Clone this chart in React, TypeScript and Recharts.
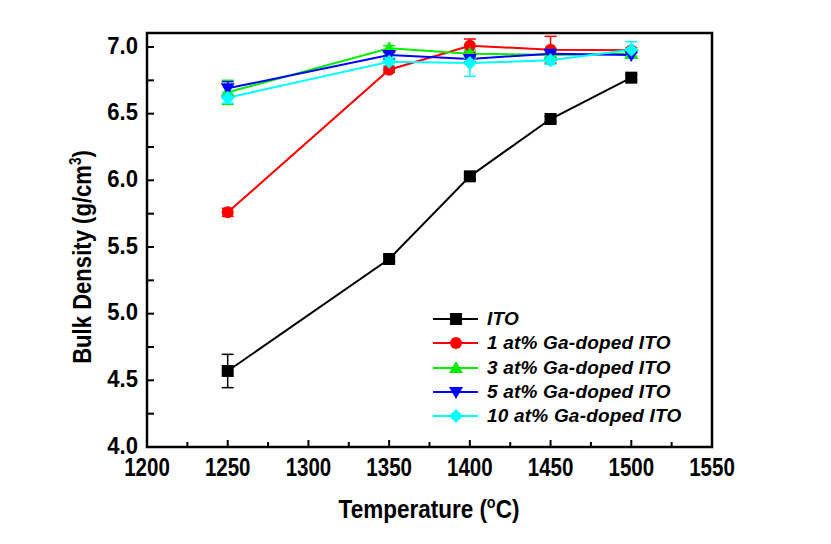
import { LineChart, Line, XAxis, YAxis, ErrorBar, ReferenceArea } from "recharts";

const temps = [1250, 1350, 1400, 1450, 1500];
const ito = [4.57, 5.41, 6.03, 6.46, 6.77];
const itoErr = [0.125, 0.02, 0.02, 0.02, 0.02];
const ga1 = [5.76, 6.83, 7.01, 6.98, 6.975];
const ga1Err = [0.03, 0.02, 0.05, 0.1, 0.02];
const ga3 = [6.66, 6.99, 6.95, 6.94, 6.95];
const ga3Err = [0.09, 0.02, 0.02, 0.02, 0.02];
const ga5 = [6.69, 6.94, 6.91, 6.95, 6.94];
const ga5Err = [0.05, 0.03, 0.02, 0.03, 0.02];
const ga10 = [6.62, 6.89, 6.88, 6.9, 6.98];
const ga10Err = [0.04, 0.03, 0.1, 0.03, 0.06];

const xTicks = [1200, 1225, 1250, 1275, 1300, 1325, 1350, 1375, 1400, 1425, 1450, 1475, 1500, 1525, 1550];
const yTicks = [4.0, 4.25, 4.5, 4.75, 5.0, 5.25, 5.5, 5.75, 6.0, 6.25, 6.5, 6.75, 7.0];

const data = temps.map((t, i) => ({
  t,
  ito: ito[i], itoErr: itoErr[i],
  ga1: ga1[i], ga1Err: ga1Err[i],
  ga3: ga3[i], ga3Err: ga3Err[i],
  ga5: ga5[i], ga5Err: ga5Err[i],
  ga10: ga10[i], ga10Err: ga10Err[i],
}));

const FONT = "'Liberation Sans', Arial, sans-serif";
const TICK_MARGIN = 6;

type Shape = "square" | "circle" | "up" | "down" | "diamond";

function marker(shape: Shape, cx: number, cy: number, color: string, key?: string) {
  const s = 6;
  if (shape === "square") return <rect key={key} x={cx - s} y={cy - s} width={2 * s} height={2 * s} fill={color} />;
  if (shape === "circle") return <circle key={key} cx={cx} cy={cy} r={s} fill={color} />;
  if (shape === "up")
    return <polygon key={key} points={`${cx},${cy - 7} ${cx + 7},${cy + 5} ${cx - 7},${cy + 5}`} fill={color} />;
  if (shape === "down")
    return <polygon key={key} points={`${cx},${cy + 7} ${cx + 7},${cy - 5} ${cx - 7},${cy - 5}`} fill={color} />;
  return <polygon key={key} points={`${cx},${cy - 7} ${cx + 7},${cy} ${cx},${cy + 7} ${cx - 7},${cy}`} fill={color} />;
}

const series: { key: string; name: string; color: string; shape: Shape }[] = [
  { key: "ito", name: "ITO", color: "#000000", shape: "square" },
  { key: "ga1", name: "1 at% Ga-doped ITO", color: "#ff0000", shape: "circle" },
  { key: "ga3", name: "3 at% Ga-doped ITO", color: "#00ee00", shape: "up" },
  { key: "ga5", name: "5 at% Ga-doped ITO", color: "#0000ff", shape: "down" },
  { key: "ga10", name: "10 at% Ga-doped ITO", color: "#00ffff", shape: "diamond" },
];

function YTick(props: any) {
  const { x, y, payload } = props;
  const v = payload.value as number;
  const major = Math.abs(v * 2 - Math.round(v * 2)) < 1e-6;
  const ax = x + TICK_MARGIN;
  return (
    <g>
      <line x1={ax} x2={ax + 7} y1={y} y2={y} stroke="#000" strokeWidth={2} />
      {major && (
        <text transform={`translate(${ax - 9},${y + 6.5}) scale(0.92,1)`} textAnchor="end" fontFamily={FONT} fontWeight="bold" fontSize={24} fill="#000">
          {v.toFixed(1)}
        </text>
      )}
    </g>
  );
}

function XTick(props: any) {
  const { x, y, payload } = props;
  const v = payload.value as number;
  const major = v % 50 === 0;
  const ay = y - TICK_MARGIN;
  return (
    <g>
      <line x1={x} x2={x} y1={ay} y2={ay - (major ? 7 : 5)} stroke="#000" strokeWidth={2} />
      {major && (
        <text transform={`translate(${x},${ay + 28.5}) scale(0.82,1)`} textAnchor="middle" fontFamily={FONT} fontWeight="bold" fontSize={25} fill="#000">
          {v}
        </text>
      )}
    </g>
  );
}

function LegendBox() {
  return (
    <div style={{ position: "absolute", left: 431, top: 307, fontFamily: FONT, fontStyle: "italic", fontWeight: "bold", fontSize: 19 }}>
      {series.map((s) => (
        <div key={s.key} style={{ display: "flex", alignItems: "center", height: 24.3 }}>
          <svg width={50} height={20}>
            <line x1={2} x2={47} y1={10} y2={10} stroke={s.color} strokeWidth={2} />
            {marker(s.shape, 25, 10, s.color)}
          </svg>
          <span style={{ marginLeft: 6, letterSpacing: 0.2 }}>{s.name}</span>
        </div>
      ))}
    </div>
  );
}

export default function App() {
  return (
    <div style={{ position: "absolute", left: 0, top: 0, width: 831, height: 544, background: "#fff" }}>
      <LineChart width={831} height={544} data={data} margin={{ top: 33, right: 119, bottom: 57, left: 87 }}>
        <XAxis
          dataKey="t"
          type="number"
          domain={[1200, 1550]}
          ticks={xTicks}
          interval={0}
          tickSize={0}
          tickMargin={TICK_MARGIN}
          tickLine={false}
          tick={<XTick />}
          axisLine={{ stroke: "#000", strokeWidth: 2 }}
          height={40}
        />
        <YAxis
          type="number"
          domain={[4.0, 7.105]}
          ticks={yTicks}
          interval={0}
          tickSize={0}
          tickMargin={TICK_MARGIN}
          tickLine={false}
          tick={<YTick />}
          axisLine={{ stroke: "#000", strokeWidth: 2 }}
          width={60}
        />
        <ReferenceArea x1={1200} x2={1550} y1={4.0} y2={7.105} fill="none" stroke="#000" strokeWidth={2.5} ifOverflow="visible" />
        {series.map((s) => (
          <Line
            key={s.key}
            dataKey={s.key}
            name={s.name}
            stroke={s.color}
            strokeWidth={2}
            isAnimationActive={false}
            dot={(p: any) => marker(s.shape, p.cx, p.cy, s.color, `${s.key}-${p.index}`)}
            activeDot={false}
          >
            <ErrorBar dataKey={`${s.key}Err`} width={6} stroke={s.color} strokeWidth={1.5} direction="y" isAnimationActive={false} />
          </Line>
        ))}
        <text transform="translate(91,257) rotate(-90) scale(0.85,1)" textAnchor="middle" fontFamily={FONT} fontWeight="bold" fontSize={26} fill="#000">
          Bulk Density (g/cm<tspan dy={-10} fontSize={16}>3</tspan><tspan dy={10}>)</tspan>
        </text>
        <text transform="translate(429,518) scale(0.9,1)" textAnchor="middle" fontFamily={FONT} fontWeight="bold" fontSize={25} fill="#000">
          Temperature (<tspan dy={-10} fontSize={16}>o</tspan><tspan dy={10}>C)</tspan>
        </text>
      </LineChart>
      <LegendBox />
    </div>
  );
}
